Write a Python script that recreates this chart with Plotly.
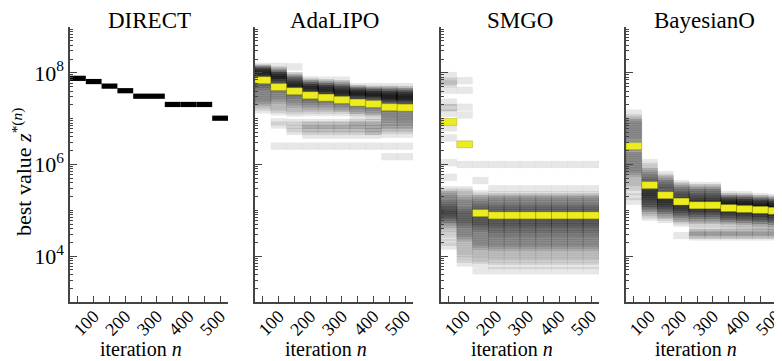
import plotly.graph_objects as go

# ---------------- data ----------------
iterations = [50, 100, 150, 200, 250, 300, 350, 400, 450, 500]
x_tick_labels = ["", "100", "", "200", "", "300", "", "400", "", "500"]
panel_titles = ["DIRECT", "AdaLIPO", "SMGO", "BayesianO"]
y_tick_values = [1e4, 1e6, 1e8]
y_tick_labels = ["10<sup>4</sup>", "10<sup>6</sup>", "10<sup>8</sup>"]

# DIRECT: single deterministic run, log10 of best value per iteration
direct_log10 = [7.88, 7.81, 7.71, 7.61, 7.49, 7.49, 7.31, 7.31, 7.31, 7.01]

# Stochastic methods: per iteration, (log10 best value, number of runs at that level)
adalipo_50 = [(8.14, 1), (8.10, 3), (8.06, 5), (8.02, 5), (7.98, 5), (7.94, 4), (7.90, 3), (7.85, 3),
              (7.80, 3), (7.75, 3), (7.70, 3), (7.65, 2), (7.60, 2), (7.55, 2), (7.50, 2), (7.45, 2),
              (7.40, 2), (7.35, 2), (7.30, 1), (7.25, 1), (7.19, 1)]
adalipo_100 = [(8.14, 1), (8.06, 2), (8.02, 2), (7.98, 4), (7.94, 5), (7.90, 5), (7.86, 5), (7.82, 4),
               (7.74, 3), (7.70, 3), (7.65, 3), (7.60, 2), (7.55, 2), (7.50, 2), (7.45, 2), (7.40, 2),
               (7.35, 1), (7.30, 1), (7.25, 1), (7.20, 1), (7.15, 1), (6.93, 1), (6.86, 1), (6.40, 1)]
adalipo_150 = [(8.13, 1), (7.94, 2), (7.90, 2), (7.86, 3), (7.82, 3), (7.78, 4), (7.74, 5), (7.70, 5),
               (7.66, 4), (7.62, 3), (7.57, 3), (7.52, 3), (7.47, 2), (7.42, 2), (7.37, 2), (7.32, 2),
               (7.27, 1), (7.22, 1), (7.17, 1), (7.12, 1), (6.92, 1), (6.86, 1), (6.78, 1), (6.72, 1),
               (6.40, 1)]
adalipo_200 = [(7.85, 1), (7.80, 2), (7.76, 3), (7.72, 4), (7.68, 5), (7.64, 5), (7.60, 4), (7.53, 3),
               (7.48, 3), (7.43, 3), (7.38, 2), (7.33, 2), (7.28, 2), (7.23, 1), (7.18, 1), (7.13, 1),
               (6.92, 1), (6.86, 2), (6.78, 2), (6.72, 1), (6.64, 1), (6.40, 1)]
adalipo_250 = [(7.84, 1), (7.78, 2), (7.74, 2), (7.70, 4), (7.66, 5), (7.62, 5), (7.58, 4), (7.54, 3),
               (7.48, 3), (7.43, 3), (7.38, 2), (7.33, 2), (7.28, 2), (7.23, 1), (7.18, 1), (7.13, 1),
               (6.92, 1), (6.86, 2), (6.78, 2), (6.72, 1), (6.64, 1), (6.40, 1)]
adalipo_300 = [(7.84, 1), (7.76, 2), (7.72, 2), (7.68, 3), (7.64, 4), (7.60, 5), (7.56, 5), (7.52, 4),
               (7.48, 3), (7.43, 3), (7.38, 3), (7.33, 2), (7.28, 2), (7.23, 2), (7.18, 1), (7.13, 1),
               (6.92, 1), (6.86, 2), (6.78, 2), (6.72, 1), (6.64, 1), (6.40, 1)]
adalipo_350 = [(7.70, 1), (7.66, 2), (7.62, 4), (7.58, 5), (7.54, 5), (7.50, 5), (7.46, 4), (7.38, 3),
               (7.33, 3), (7.28, 2), (7.23, 2), (7.18, 2), (7.13, 1), (7.08, 1), (6.92, 2), (6.86, 2),
               (6.78, 2), (6.72, 1), (6.64, 1), (6.40, 1)]
adalipo_400 = [(7.70, 1), (7.64, 2), (7.60, 4), (7.56, 5), (7.52, 5), (7.48, 5), (7.44, 4), (7.34, 3),
               (7.30, 3), (7.25, 2), (7.20, 2), (7.15, 2), (7.10, 1), (7.05, 1), (6.92, 2), (6.86, 2),
               (6.78, 2), (6.72, 2), (6.64, 1), (6.40, 1)]
adalipo_450 = [(7.70, 1), (7.64, 2), (7.60, 3), (7.56, 4), (7.52, 5), (7.48, 5), (7.44, 5), (7.40, 4),
               (7.36, 3), (7.28, 3), (7.23, 3), (7.18, 2), (7.13, 2), (7.08, 2), (7.03, 2), (6.98, 2),
               (6.92, 2), (6.86, 2), (6.80, 2), (6.74, 1), (6.66, 1), (6.40, 1), (6.17, 1)]
adalipo_500 = [(7.70, 1), (7.63, 2), (7.59, 3), (7.55, 4), (7.51, 5), (7.47, 5), (7.43, 5), (7.39, 4),
               (7.35, 3), (7.27, 3), (7.22, 3), (7.17, 2), (7.12, 2), (7.07, 2), (7.02, 2), (6.97, 2),
               (6.92, 2), (6.86, 2), (6.80, 2), (6.74, 1), (6.66, 1), (6.40, 1), (6.17, 1)]
adalipo_highlight_log10 = [7.84, 7.69, 7.60, 7.51, 7.46, 7.41, 7.35, 7.32, 7.25, 7.24]

smgo_50 = [(7.94, 1), (7.82, 1), (7.79, 1), (7.76, 1), (7.62, 1), (7.36, 1), (7.24, 2), (7.12, 1),
           (6.80, 1), (6.58, 1), (6.04, 1), (5.72, 1), (5.45, 1), (5.40, 1), (5.35, 2), (5.30, 2),
           (5.25, 2), (5.20, 2), (5.15, 3), (5.10, 3), (5.05, 3), (5.00, 4), (4.95, 4), (4.90, 4),
           (4.85, 3), (4.80, 3), (4.75, 2), (4.70, 2), (4.65, 1), (4.60, 1), (4.55, 1), (4.48, 1),
           (4.40, 1), (4.30, 1), (4.22, 1)]
smgo_100 = [(7.83, 1), (7.62, 1), (7.25, 1), (7.08, 1), (6.00, 1), (5.45, 1), (5.40, 1), (5.35, 1),
            (5.30, 1), (5.25, 2), (5.20, 2), (5.15, 2), (5.10, 2), (5.05, 2), (5.00, 3), (4.95, 3),
            (4.90, 3), (4.85, 3), (4.80, 3), (4.75, 3), (4.70, 3), (4.65, 2), (4.60, 2), (4.55, 2),
            (4.50, 2), (4.45, 2), (4.40, 2), (4.35, 1), (4.30, 1), (4.25, 1), (4.20, 1), (4.15, 1),
            (4.10, 1), (4.05, 1), (4.00, 1), (3.93, 1), (3.85, 1)]
smgo_150 = [(6.00, 1), (5.65, 1), (5.36, 1), (5.31, 1), (5.26, 2), (5.21, 2), (5.16, 2), (5.11, 3),
            (5.06, 3), (5.01, 3), (4.96, 3), (4.91, 3), (4.86, 3), (4.81, 3), (4.76, 4), (4.71, 3),
            (4.66, 3), (4.61, 3), (4.56, 2), (4.51, 2), (4.46, 2), (4.41, 2), (4.36, 2), (4.31, 2),
            (4.26, 2), (4.21, 2), (4.16, 1), (4.11, 1), (4.06, 1), (4.01, 1), (3.96, 1), (3.91, 1),
            (3.84, 1), (3.68, 1)]
smgo_200_to_500 = [(6.00, 1), (5.47, 1), (5.34, 1), (5.29, 2), (5.24, 2), (5.19, 2), (5.14, 2), (5.09, 3),
                   (5.04, 3), (4.99, 3), (4.94, 3), (4.89, 3), (4.84, 3), (4.79, 3), (4.74, 4), (4.69, 3),
                   (4.64, 3), (4.59, 3), (4.54, 2), (4.49, 3), (4.44, 2), (4.39, 2), (4.34, 2), (4.29, 2),
                   (4.24, 2), (4.19, 2), (4.14, 1), (4.09, 1), (4.04, 1), (3.99, 1), (3.94, 1), (3.89, 1),
                   (3.80, 1), (3.68, 1)]
smgo_highlight_log10 = [6.93, 6.44, 4.94, 4.89, 4.89, 4.89, 4.89, 4.89, 4.89, 4.89]

bayes_50 = [(7.12, 1), (7.02, 1), (6.97, 2), (6.92, 2), (6.87, 2), (6.82, 2), (6.77, 2), (6.72, 2),
            (6.67, 2), (6.62, 2), (6.57, 2), (6.52, 2), (6.45, 2), (6.38, 2), (6.30, 2), (6.25, 2),
            (6.20, 2), (6.15, 2), (6.10, 2), (6.05, 2), (6.00, 2), (5.95, 2), (5.90, 2), (5.85, 2),
            (5.80, 2), (5.75, 1), (5.70, 1), (5.65, 1), (5.60, 1), (5.55, 1), (5.50, 1), (5.40, 1),
            (5.30, 1), (5.20, 1)]
bayes_100 = [(6.04, 1), (5.96, 1), (5.90, 1), (5.85, 2), (5.80, 2), (5.75, 2), (5.70, 3), (5.65, 3),
             (5.60, 3), (5.50, 4), (5.45, 4), (5.40, 5), (5.35, 5), (5.30, 5), (5.25, 4), (5.20, 4),
             (5.15, 4), (5.10, 3), (5.05, 3), (5.00, 2), (4.95, 1), (4.90, 1), (4.85, 1)]
bayes_150 = [(5.78, 1), (5.72, 1), (5.68, 2), (5.63, 2), (5.58, 3), (5.53, 3), (5.48, 3), (5.43, 4),
             (5.36, 4), (5.30, 5), (5.25, 5), (5.20, 5), (5.15, 5), (5.10, 4), (5.05, 4), (5.00, 3),
             (4.95, 2), (4.90, 2), (4.85, 1), (4.80, 1)]
bayes_200 = [(5.58, 1), (5.53, 2), (5.48, 2), (5.43, 3), (5.38, 3), (5.33, 4), (5.28, 4), (5.22, 5),
             (5.17, 5), (5.12, 5), (5.07, 5), (5.02, 4), (4.97, 4), (4.92, 3), (4.87, 2), (4.82, 2),
             (4.77, 1), (4.72, 1), (4.45, 1)]
bayes_250 = [(5.54, 1), (5.49, 2), (5.44, 2), (5.39, 3), (5.34, 3), (5.29, 4), (5.24, 4), (5.19, 5),
             (5.14, 5), (5.09, 5), (5.04, 5), (4.99, 4), (4.94, 4), (4.89, 3), (4.84, 2), (4.79, 2),
             (4.74, 1), (4.70, 1), (4.58, 1), (4.52, 2), (4.46, 2), (4.42, 1)]
bayes_300 = [(5.54, 1), (5.49, 2), (5.44, 2), (5.39, 3), (5.34, 3), (5.29, 4), (5.24, 4), (5.19, 5),
             (5.14, 5), (5.09, 5), (5.04, 5), (4.99, 4), (4.94, 4), (4.89, 3), (4.84, 2), (4.79, 2),
             (4.74, 1), (4.70, 1), (4.58, 1), (4.52, 2), (4.46, 2), (4.42, 1)]
bayes_350 = [(5.35, 1), (5.30, 2), (5.26, 3), (5.22, 4), (5.18, 5), (5.14, 5), (5.10, 5), (5.07, 5),
             (5.02, 5), (4.97, 5), (4.92, 4), (4.87, 4), (4.82, 3), (4.77, 2), (4.72, 1), (4.68, 1),
             (4.58, 1), (4.52, 2), (4.46, 2), (4.42, 1)]
bayes_400 = [(5.34, 1), (5.29, 2), (5.25, 3), (5.21, 4), (5.17, 5), (5.13, 5), (5.09, 5), (5.05, 5),
             (5.00, 5), (4.95, 5), (4.90, 4), (4.85, 4), (4.80, 3), (4.75, 2), (4.70, 1), (4.66, 1),
             (4.58, 1), (4.52, 2), (4.46, 2), (4.42, 1)]
bayes_450 = [(5.30, 1), (5.26, 2), (5.22, 3), (5.18, 4), (5.14, 5), (5.10, 5), (5.06, 5), (5.03, 5),
             (4.98, 5), (4.93, 5), (4.88, 4), (4.83, 4), (4.78, 3), (4.73, 2), (4.68, 1), (4.64, 1),
             (4.58, 1), (4.52, 2), (4.46, 2), (4.42, 1)]
bayes_500 = [(5.28, 1), (5.24, 2), (5.20, 3), (5.16, 4), (5.12, 5), (5.08, 5), (5.04, 5), (5.01, 5),
             (4.96, 5), (4.91, 5), (4.86, 4), (4.81, 4), (4.76, 3), (4.71, 2), (4.66, 1), (4.62, 1),
             (4.58, 1), (4.52, 2), (4.46, 2), (4.42, 1)]
bayes_highlight_log10 = [6.40, 5.55, 5.33, 5.19, 5.11, 5.11, 5.05, 5.03, 5.01, 4.99]

adalipo_runs = [adalipo_50, adalipo_100, adalipo_150, adalipo_200, adalipo_250,
                adalipo_300, adalipo_350, adalipo_400, adalipo_450, adalipo_500]
smgo_runs = [smgo_50, smgo_100, smgo_150] + [smgo_200_to_500] * 7
bayes_runs = [bayes_50, bayes_100, bayes_150, bayes_200, bayes_250,
              bayes_300, bayes_350, bayes_400, bayes_450, bayes_500]

# ---------------- styling ----------------
FONT = "Liberation Serif"
OFF = 8                      # default page body margin of the html page
W, H = 782 - OFF, 361 - OFF  # figure size so that it fits the window
BIN_W = 50
RUN_HALF = 0.076      # half thickness (decades) of a run / highlight bar
DIRECT_HALF = 0.057   # half thickness (decades) of DIRECT bar
RUN_COLOR = "rgba(0,0,0,0.095)"
RUN_EDGE = "rgba(0,0,0,0.04)"
HIGHLIGHT = "rgb(237,237,30)"
AXIS_COLOR = "#444444"

x_domains_px = [(70, 228), (255, 413), (441, 599), (626, 782)]  # window pixels
px_per_iter = 158 / 500.0
y_bottom_px, y_top_px = 302, 27


def fx(px):
    return (px - OFF) / W


def fy(px):
    return 1 - (px - OFF) / H


def bar_geom(logs, half):
    base = [10 ** (v - half) for v in logs]
    length = [10 ** (v + half) - 10 ** (v - half) for v in logs]
    return base, length


fig = go.Figure()

b, l = bar_geom(direct_log10, DIRECT_HALF)
fig.add_trace(go.Bar(x=iterations, base=b, y=l, width=BIN_W, marker=dict(color="black", line=dict(width=0)),
                     xaxis="x", yaxis="y", showlegend=False, name="DIRECT"))

for k, (runs, hl) in enumerate([(adalipo_runs, adalipo_highlight_log10),
                                (smgo_runs, smgo_highlight_log10),
                                (bayes_runs, bayes_highlight_log10)], start=2):
    xs, vals = [], []
    for it, col in zip(iterations, runs):
        for v, n in col:
            for _ in range(n):
                xs.append(it)
                vals.append(v)
    b, l = bar_geom(vals, RUN_HALF)
    fig.add_trace(go.Bar(x=xs, base=b, y=l, width=BIN_W,
                         marker=dict(color=RUN_COLOR, line=dict(width=0.5, color=RUN_EDGE)),
                         xaxis=f"x{k}", yaxis=f"y{k}", showlegend=False, name=panel_titles[k - 1]))
    b, l = bar_geom(hl, RUN_HALF)
    fig.add_trace(go.Bar(x=iterations, base=b, y=l, width=BIN_W,
                         marker=dict(color=HIGHLIGHT, line=dict(width=0.6, color="rgba(120,120,0,0.5)")),
                         xaxis=f"x{k}", yaxis=f"y{k}", showlegend=False, name=panel_titles[k - 1]))

minor_vals = []
for e in range(3, 9):
    minor_vals.append(10 ** e)
    for m in range(2, 10):
        minor_vals.append(m * 10 ** e)
minor_vals.append(10 ** 9)

layout = dict(width=W, height=H, margin=dict(l=0, r=0, t=0, b=0), barmode="overlay",
              plot_bgcolor="white", paper_bgcolor="white",
              font=dict(family=FONT, color="black"), showlegend=False)

annotations = []
for i, (x0, x1) in enumerate(x_domains_px):
    k = "" if i == 0 else str(i + 1)
    span = (x1 - x0) / px_per_iter
    layout["xaxis" + k] = dict(
        domain=[fx(x0), min(1.0, fx(x1))], anchor="y" + k, range=[25, 25 + span],
        tickmode="array", tickvals=iterations, ticktext=x_tick_labels,
        ticks="inside", ticklen=6, tickwidth=1.3, tickcolor=AXIS_COLOR, tickangle=-45,
        tickfont=dict(family=FONT, size=18, color="black"), ticklabeloverflow="allow",
        ticklabelstandoff=-5,
        showline=True, linecolor=AXIS_COLOR, linewidth=1.5, showgrid=False, zeroline=False,
        automargin=False, fixedrange=True)
    layout["yaxis" + k] = dict(
        domain=[fy(y_bottom_px), fy(y_top_px)], anchor="x" + k, type="log", range=[3, 9],
        tickmode="array", tickvals=y_tick_values, ticktext=y_tick_labels, showticklabels=(i == 0),
        ticks="inside", ticklen=7, tickwidth=1.3, tickcolor=AXIS_COLOR,
        minor=dict(tickmode="array", tickvals=minor_vals, ticks="inside", ticklen=3,
                   tickwidth=1, tickcolor=AXIS_COLOR, showgrid=False),
        tickfont=dict(family=FONT, size=22, color="black"),
        showline=True, linecolor=AXIS_COLOR, linewidth=1.5, showgrid=False, zeroline=False,
        automargin=False, fixedrange=True)
    cx = (x0 + x1) / 2
    annotations.append(dict(text=panel_titles[i], x=fx(cx), y=fy(20), xref="paper", yref="paper",
                            showarrow=False, xanchor="center", yanchor="middle",
                            font=dict(family=FONT, size=23, color="black")))
    annotations.append(dict(text="iteration <i>n</i>", x=fx(cx - 8), y=fy(349),
                            xref="paper", yref="paper", showarrow=False,
                            xanchor="center", yanchor="middle",
                            font=dict(family=FONT, size=20, color="black")))

annotations.append(dict(text="best value <i>z</i><sup>*(<i>n</i>)</sup>", x=fx(22), y=fy(172),
                        xref="paper", yref="paper", showarrow=False, textangle=-90,
                        xanchor="center", yanchor="middle",
                        font=dict(family=FONT, size=22, color="black")))
layout["annotations"] = annotations

fig.update_layout(**layout)
fig.write_html("out.html")
